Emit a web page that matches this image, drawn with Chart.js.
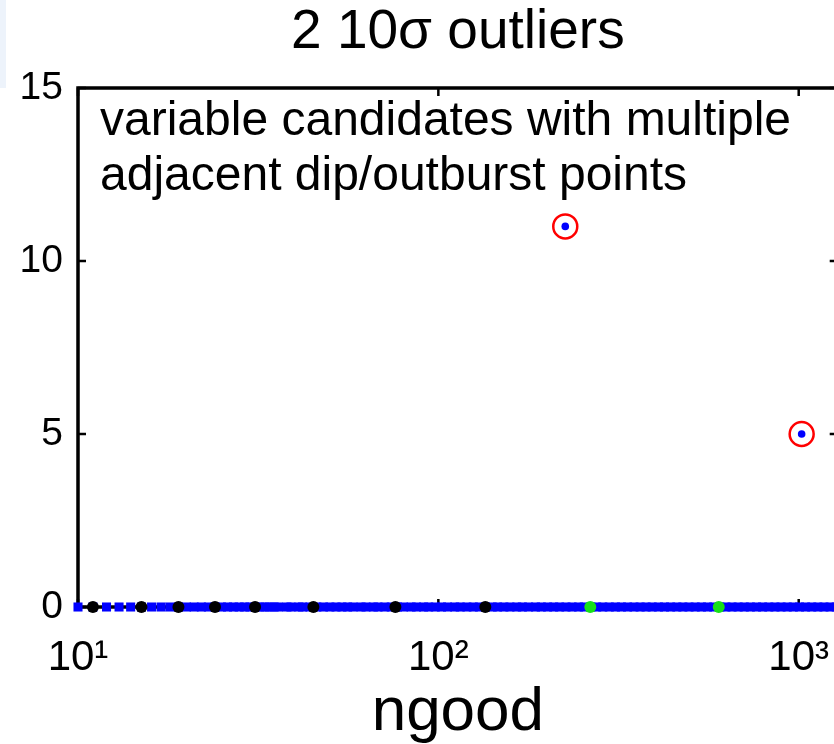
<!DOCTYPE html>
<html lang="en">
<head>
  <meta charset="UTF-8" />
  <title>2 10σ outliers</title>
  <script src="https://cdn.jsdelivr.net/npm/chart.js"></script>
  <style>
    html, body {
      margin: 0;
      padding: 0;
      background: #ffffff;
      overflow: hidden;
    }
    #wrap {
      position: relative;
      width: 856px;
      height: 744px;
    }
    #edge {
      position: absolute;
      left: 0;
      top: 0;
      width: 6px;
      height: 88px;
      background: #edf3fb;
    }
  </style>
</head>
<body>
  <div id="wrap">
    <canvas id="grafico" width="856" height="744"></canvas>
    <div id="edge"></div>
  </div>

  <script>
    // --- data ---
    const xTicks = [10, 100, 1000];
    const yTicks = [0, 5, 10, 15];
    const xLabels = ["10¹", "10²", "10³"];

    // all candidates (blue dots), nearly all sit on 0
    const blueNgood = [10, 11, 12, 13, 14, 15, 16, 17, 18, 19, 20, 21, 22, 23, 24, 25, 26, 27, 28, 29,
      30, 31, 32, 33, 34, 35, 36, 38, 39, 41, 42, 44, 46, 48, 50, 52, 54, 56, 58, 61, 63, 66, 68, 71,
      74, 77, 80, 84, 87, 91, 94, 98, 102, 106, 111, 115, 120, 125, 130, 135, 141, 146, 152, 158, 165,
      171, 178, 186, 193, 201, 209, 217, 226, 235, 245, 254, 265, 275, 286, 298, 310, 322, 335, 349,
      363, 377, 392, 408, 424, 441, 459, 477, 496, 516, 537, 558, 581, 604, 628, 653, 679, 706, 734,
      764, 794, 826, 859, 893, 929, 966, 1005, 1045, 1087, 1130, 1175, 1222, 1271, 1300];

    // the two 10 sigma outliers (red rings, blue centre)
    const outlierNgood = [225, 1019];
    const outlierValue = [11, 5];

    // variable candidates, black and green dots on 0
    const blackNgood = [11, 15, 19, 24, 31, 45, 76, 135];
    const greenNgood = [264, 600];

    const titulo = "2 10σ outliers";
    const nota = ["variable candidates with multiple", "adjacent dip/outburst points"];

    const pts = (xs, ys) => xs.map((x, i) => ({ x: x, y: ys ? ys[i] : 0 }));

    // frame, inward ticks and the note, matlab style
    const moldura = {
      id: "moldura",
      beforeDatasetsDraw(chart) {
        const { ctx, chartArea: a, scales } = chart;
        ctx.save();
        ctx.strokeStyle = "#000";
        ctx.lineWidth = 3.5;
        ctx.strokeRect(a.left, a.top, a.right - a.left, a.bottom - a.top);
        ctx.lineWidth = 2.5;
        ctx.beginPath();
        xTicks.forEach(v => {
          const px = scales.x.getPixelForValue(v);
          ctx.moveTo(px, a.bottom); ctx.lineTo(px, a.bottom - 8);
          ctx.moveTo(px, a.top); ctx.lineTo(px, a.top + 8);
        });
        yTicks.forEach(v => {
          const py = scales.y.getPixelForValue(v);
          ctx.moveTo(a.left, py); ctx.lineTo(a.left + 8, py);
          ctx.moveTo(a.right, py); ctx.lineTo(a.right - 8, py);
        });
        ctx.stroke();

        ctx.fillStyle = "#000";
        ctx.font = "48px 'Liberation Sans', Arial, sans-serif";
        ctx.textAlign = "left";
        ctx.textBaseline = "alphabetic";
        nota.forEach((linha, i) => {
          ctx.fillText(linha, a.left + 22, a.top + 47 + i * 55);
        });
        ctx.restore();
      }
    };

    new Chart(document.getElementById("grafico"), {
      type: "scatter",
      data: {
        datasets: [
          {
            label: "outliers",
            data: pts(outlierNgood, outlierValue),
            pointStyle: "circle",
            pointRadius: 12,
            pointBorderWidth: 2.5,
            pointBorderColor: "#ff0000",
            pointBackgroundColor: "rgba(0,0,0,0)",
            clip: false,
            order: 1
          },
          {
            label: "black",
            data: pts(blackNgood),
            pointRadius: 6,
            pointBorderWidth: 0,
            pointBackgroundColor: "#000000",
            clip: false,
            order: 2
          },
          {
            label: "green",
            data: pts(greenNgood),
            pointRadius: 6,
            pointBorderWidth: 0,
            pointBackgroundColor: "#18e018",
            clip: false,
            order: 2
          },
          {
            label: "all",
            data: pts(blueNgood).concat(pts(outlierNgood, outlierValue)),
            // squares pile up into the thick band on 0, the outliers keep a round dot
            pointStyle: c => (c.raw && c.raw.y === 0 ? "rect" : "circle"),
            pointRadius: c => (c.raw && c.raw.y === 0 ? 6.4 : 3.8),
            pointBorderWidth: 0,
            pointBackgroundColor: "#0000ff",
            clip: false,
            order: 3
          }
        ]
      },
      plugins: [moldura],
      options: {
        responsive: false,
        animation: false,
        events: [],
        layout: { padding: { left: 0, right: 5, top: 0, bottom: 0 } },
        plugins: {
          legend: { display: false },
          tooltip: { enabled: false },
          title: {
            display: true,
            text: titulo,
            fullSize: false,
            color: "#000",
            font: { family: "'Liberation Sans', Arial, sans-serif", size: 55, weight: "normal", lineHeight: 1.2 },
            padding: { top: 0, bottom: 22 }
          }
        },
        scales: {
          x: {
            type: "logarithmic",
            min: 10,
            max: 1283,
            afterBuildTicks: s => { s.ticks = xTicks.map(v => ({ value: v })); },
            afterFit: s => { s.height = 137; },
            grid: { display: false, drawTicks: false },
            border: { display: false },
            ticks: {
              color: "#000",
              padding: 26,
              maxRotation: 0,
              autoSkip: false,
              font: { family: "'Liberation Sans', Arial, sans-serif", size: 42 },
              callback: (v) => xLabels[xTicks.indexOf(v)] || ""
            },
            title: {
              display: true,
              text: "ngood",
              color: "#000",
              padding: { top: 0, bottom: 0 },
              font: { family: "'Liberation Sans', Arial, sans-serif", size: 62, lineHeight: 1.0 }
            }
          },
          y: {
            min: 0,
            max: 15,
            afterBuildTicks: s => { s.ticks = yTicks.map(v => ({ value: v })); },
            afterFit: s => { s.width = 78; },
            grid: { display: false, drawTicks: false },
            border: { display: false },
            ticks: {
              color: "#000",
              padding: 15,
              font: { family: "'Liberation Sans', Arial, sans-serif", size: 39 }
            }
          }
        }
      }
    });
  </script>
</body>
</html>
